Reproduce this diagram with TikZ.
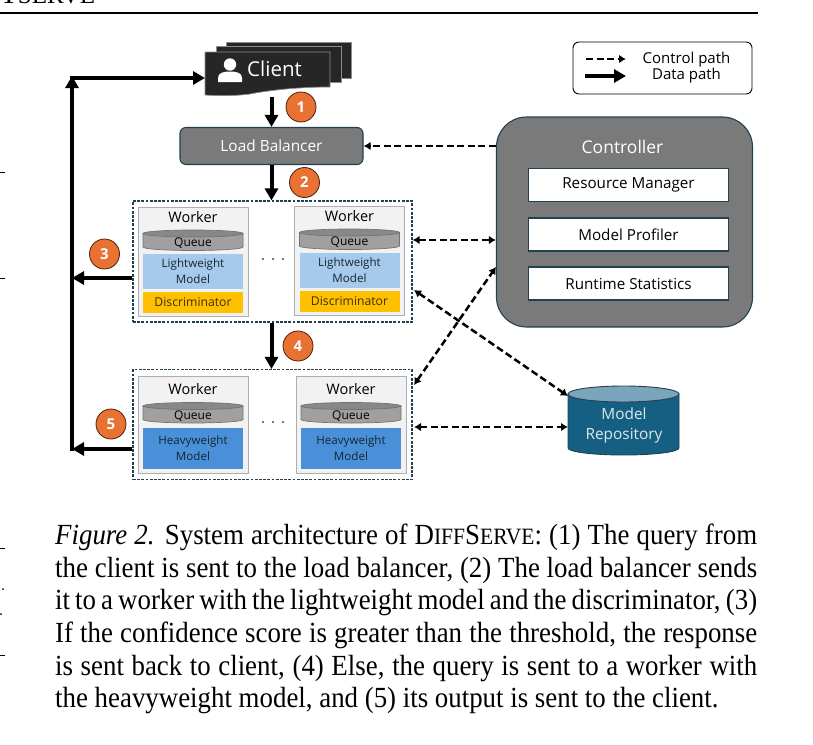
\documentclass[tikz,border=0pt]{standalone}
\usepackage{fontspec}
\setmainfont{Liberation Serif}
\newfontfamily\dia{Open Sans}
\usetikzlibrary{arrows.meta,shapes.geometric,calc}
\definecolor{ctrlgray}{HTML}{7A7A7A}
\definecolor{edgeblue}{HTML}{23404F}
\definecolor{dark}{HTML}{262626}
\definecolor{wfill}{HTML}{F2F2F2}
\definecolor{wedge}{HTML}{AEAEAE}
\definecolor{light}{HTML}{A6CAEC}
\definecolor{heavy}{HTML}{4A90D9}
\definecolor{disc}{HTML}{FFC000}
\definecolor{badge}{HTML}{E97132}
\definecolor{repo}{HTML}{156082}
\definecolor{repotop}{HTML}{7AA5BC}
\definecolor{qgray}{HTML}{A0A0A0}
\tikzset{
 x=1pt,y=-1pt,
 data/.style={line width=4pt,draw=black,-{Triangle[width=13pt,length=12pt]}},
 ctrl/.style={line width=2.5pt,draw=black,dash pattern=on 7pt off 3.5pt,{Latex[width=8.5pt,length=7pt]}-{Latex[width=8.5pt,length=7pt]}},
 ctrlone/.style={line width=2.5pt,draw=black,dash pattern=on 7pt off 3.5pt,-{Latex[width=8.5pt,length=7pt]}},
 badgeno/.style={circle,fill=badge,draw=black!70!badge,line width=.8pt,minimum size=30pt,inner sep=0pt,text=white,font=\dia\bfseries\fontsize{15}{17}\selectfont},
 group/.style={draw=edgeblue,line width=1.1pt,dash pattern=on 2.8pt off 1.4pt,inner sep=0pt},
 workerbox/.style={draw=wedge,fill=wfill,line width=1pt,inner sep=0pt},
 modelbox/.style={inner sep=0pt,align=center,text=edgeblue!60!black,font=\dia\fontsize{11.6}{16}\selectfont},
 label/.style={inner sep=0pt,font=\dia\fontsize{14.5}{16}\selectfont,text=black},
 inbox/.style={draw=edgeblue,fill=white,line width=1.2pt,inner sep=0pt,font=\dia\fontsize{15.2}{17}\selectfont,text=black},
 tick/.style={line width=1pt,draw=black},
}
% queue: name, cx, cy of the text
\newcommand{\queue}[3]{%
 \path[fill=qgray,draw=black!55,line width=.7pt] (#2-50,#3-8.5) -- (#2-50,#3+5) arc[x radius=50,y radius=3.5,start angle=180,end angle=0] -- (#2+50,#3-8.5) -- cycle;
 \path[fill=qgray!85!black,draw=black!55,line width=.7pt] (#2,#3-8.5) ellipse[x radius=50,y radius=3.5];
 \node[inner sep=0pt,font=\dia\fontsize{12}{13}\selectfont,text=black] (#1) at (#2,#3+1.5) {Queue};
}
\newcommand{\lightworker}[4]{% name, cx, top, bottom
 \node[workerbox,minimum width=110pt,minimum height=#4-#3] (#1) at (#2,{(#3+#4)/2}) {};
 \node[label] (#1w) at (#2,#3+10.5) {Worker};
 \queue{#1q}{#2}{#3+35}
 \node[modelbox,fill=light,minimum width=100pt,minimum height=35pt] (#1m) at (#2,#3+64.5) {Lightweight\\Model};
 \node[modelbox,fill=disc,minimum width=100pt,minimum height=21pt,text=black!75!disc,font=\dia\fontsize{12.2}{14}\selectfont] (#1d) at (#2,#3+95) {Discriminator};
}
\newcommand{\heavyworker}[4]{%
 \node[workerbox,minimum width=110pt,minimum height=#4-#3] (#1) at (#2,{(#3+#4)/2}) {};
 \node[label] (#1w) at (#2,#3+13) {Worker};
 \queue{#1q}{#2}{#3+38}
 \node[modelbox,fill=heavy,minimum width=100pt,minimum height=41pt] (#1m) at (#2,#3+72) {Heavyweight\\Model};
}
\begin{document}
\begin{tikzpicture}
\useasboundingbox (0,0) rectangle (813,744);
% page furniture
\begin{scope}
\clip (0,0) rectangle (813,744);
\node[anchor=base west,inner sep=0pt,font=\fontsize{29}{30}\selectfont] (hdr) at (0,4) {T\fontsize{25}{30}\selectfont SERVE};
\end{scope}
\draw[line width=2.4pt] (0,13) -- (758,13);
\foreach \yy in {172,278,548,655}{\draw[tick] (0,\yy) -- (5,\yy);}
\fill (3,589) circle (1); \fill (1,614) circle (1);
% client
\foreach \dx/\dy in {21/-9,11/-4.5}{
 \fill[dark,draw=black!45,line width=.6pt] (205+\dx,51+\dy) rectangle ++(125,36);
}
\coordinate (clientL) at (205,78);
\path[fill=dark,draw=black!45,line width=.7pt] (205,52) -- (330,52) -- (330,87) .. controls (300,87) and (270,90) .. (250,94) .. controls (235,96) and (220,96) .. (205,95) -- cycle;
\node[inner sep=0pt,anchor=west,text=white,font=\dia\fontsize{20.5}{22}\selectfont] (clienttxt) at (247,69) {Client};
\fill[white] (230,64.5) circle (6.2);
\fill[white] (218,82) -- (218,78) .. controls (218,73) and (223,71.5) .. (230,71.5) .. controls (237,71.5) and (242,73) .. (242,78) -- (242,82) -- cycle;
\coordinate (clientB) at (271.5,97);
% load balancer
\node[draw=edgeblue,fill=ctrlgray,line width=1.1pt,rounded corners=6pt,minimum width=183pt,minimum height=37pt,inner sep=0pt,text=white,font=\dia\fontsize{15.4}{17}\selectfont] (lb) at (271.5,146) {Load Balancer};
% legend
\node[draw=black,line width=.9pt,rounded corners=6pt,minimum width=179pt,minimum height=52pt,inner sep=0pt] (legend) at (662.5,68) {};
\coordinate (la) at (586,59); \coordinate (lb1) at (626,59);
\coordinate (lc) at (585,76); \coordinate (ld) at (626,76);
\draw[ctrlone] (la) -- (lb1);
\draw[data] (lc) -- (ld);
\node[label,font=\dia\fontsize{15}{17}\selectfont] (lt1) at (686.5,59.5) {Control path};
\node[label,font=\dia\fontsize{15}{17}\selectfont] (lt2) at (686.5,76) {Data path};
% controller
\node[draw=edgeblue,fill=ctrlgray,line width=1.1pt,rounded corners=30pt,minimum width=256pt,minimum height=210pt,inner sep=0pt] (ctrl) at (624.5,222) {};
\node[inner sep=0pt,text=white,font=\dia\fontsize{17.5}{19}\selectfont] (ctitle) at (622.5,147) {Controller};
\node[inbox,minimum width=200pt,minimum height=33pt] (rm) at (628.5,185) {\raisebox{-1pt}{Resource Manager}};
\node[inbox,minimum width=200pt,minimum height=33pt] (mp) at (628.5,234.5) {Model Profiler};
\node[inbox,minimum width=200pt,minimum height=33pt] (rs) at (628.5,283.5) {Runtime Statistics};
% groups
\node[group,minimum width=279pt,minimum height=121pt] (g1) at (272.5,261.5) {};
\node[group,minimum width=279pt,minimum height=110pt] (g2) at (272.5,424.5) {};
\lightworker{w1}{193}{207}{316}
\lightworker{w2}{349.5}{206}{315}
\heavyworker{h1}{193}{376.5}{473}
\heavyworker{h2}{351}{376.5}{473}
\foreach \xx in {263,273,283}{\fill[black!70] (\xx,259) circle (1.1); \fill[black!70] (\xx,422) circle (1.1);}
% repository
\path[fill=repo,draw=edgeblue,line width=.9pt] (568,394) -- (568,448) arc[x radius=55.5,y radius=7,start angle=180,end angle=0] -- (679,394) -- cycle;
\path[fill=repotop,draw=edgeblue,line width=.9pt] (623.5,394) ellipse[x radius=55.5,y radius=8];
\node[inner sep=0pt,align=center,text=white!85!repo,font=\dia\fontsize{15.4}{20}\selectfont] (rt) at (624,425) {Model\\Repository};
% data path
\coordinate (c1) at (72,76);
\coordinate (c3) at (72,278);
\coordinate (c5) at (72,449);
\coordinate (c1h) at (70,78);
\draw[data] (clientB) -- (clientB|-lb.north);
\draw[data] (lb.south) -- (lb.south|-g1.north);
\draw[data] (lb.south|-g1.south) -- (lb.south|-g2.north);
\draw[data] (g1.west|-c3) -- (c3);
\draw[data] (g2.west|-c5) -- (c5);
\draw[data] ([yshift=-2pt]c5) -- (c1);
\draw[data] (c1h) -- (clientL);
% control path
\draw[ctrlone] (ctrl.west|-lb.east) -- (lb.east);
\coordinate (g1c) at (g1.east|-0,240);
\coordinate (cc) at (ctrl.west|-0,240);
\draw[ctrl] (g1c) -- (cc);
\coordinate (rtop) at (568,396);
\coordinate (rmid) at (568,427);
\coordinate (g1r) at (414,290);
\coordinate (g2r) at (414,385);
\coordinate (g2m) at (414,427);
\coordinate (cw) at (496,267);
\draw[ctrl] (g1r) -- (rtop);
\draw[ctrl] (g2r) -- (cw);
\draw[ctrl] (g2m) -- (rmid);
% badges
\node[badgeno] (b1) at (301,107) {1};
\node[badgeno] (b2) at (304.5,182.5) {2};
\node[badgeno] (b3) at (104.5,254) {3};
\node[badgeno] (b4) at (298,346) {4};
\node[badgeno] (b5) at (111,424) {5};
% caption
\node[anchor=north west,inner sep=0pt,text width=702pt,align=justify,font=\fontsize{29.2}{32.6}\selectfont] (cap) at (55,524) {\addfontfeature{FakeStretch=.92}%
\textit{Figure 2.} System architecture of D{\fontsize{23.4}{32.6}\selectfont IFF}S{\fontsize{23.4}{32.6}\selectfont ERVE}: (1) The query from\linebreak
the client is sent to the load balancer, (2) The load balancer sends\linebreak
it to a worker with the lightweight model and the discriminator, (3)\linebreak
If the confidence score is greater than the threshold, the response\linebreak
is sent back to client, (4) Else, the query is sent to a worker with\linebreak
the heavyweight model, and (5) its output is sent to the client.\par};
\end{tikzpicture}
\end{document}
